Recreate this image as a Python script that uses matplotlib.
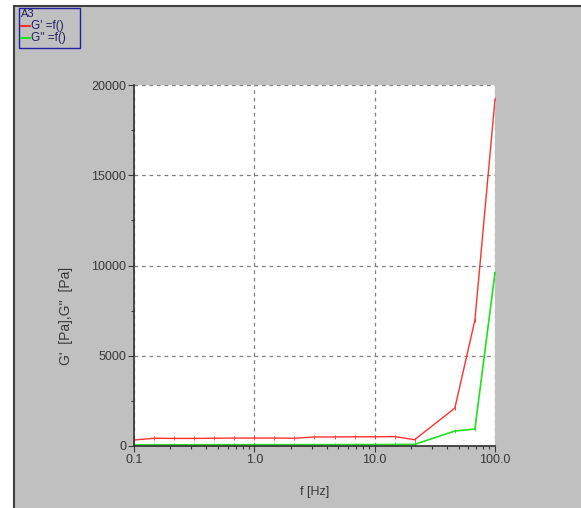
import matplotlib
matplotlib.use("Agg")
import matplotlib.pyplot as plt
from matplotlib.patches import Rectangle
from matplotlib.lines import Line2D
from matplotlib.ticker import FixedLocator, NullFormatter

plt.rcParams['font.family'] = ['Liberation Sans', 'DejaVu Sans']

freq = [0.1, 0.147, 0.215, 0.316, 0.464, 0.681, 1.0, 1.47, 2.15, 3.16,
        4.64, 6.81, 10.0, 14.7, 21.5, 46.4, 68.1, 100.0]
g_storage = [330, 430, 420, 420, 430, 440, 440, 440, 430, 500,
             500, 510, 510, 520, 350, 2100, 6980, 19200]
g_loss = [60, 60, 65, 65, 70, 70, 70, 70, 70, 75,
          75, 80, 80, 85, 90, 830, 940, 9600]
x_ticks = [0.1, 1.0, 10.0, 100.0]
x_tick_labels = ["0.1", "1.0", "10.0", "100.0"]
y_ticks = [0, 5000, 10000, 15000, 20000]

bg = "#c0c0c0"
txt = "#383838"
fig = plt.figure(figsize=(5.81, 5.08), dpi=100)
fig.patch.set_facecolor("white")

# gray panel with dark left/top border
fig.patches.append(Rectangle((14 / 581, 0), 1, 1 - 6 / 508, transform=fig.transFigure,
                             facecolor=bg, edgecolor="none", zorder=-10))
fig.lines.append(Line2D([14 / 581, 14 / 581], [0, 1 - 6 / 508], transform=fig.transFigure,
                        color="#404040", lw=1.5, zorder=-5))
fig.lines.append(Line2D([14 / 581, 1], [1 - 6 / 508, 1 - 6 / 508], transform=fig.transFigure,
                        color="#404040", lw=1.5, zorder=-5))

ax = fig.add_axes([134 / 581, 1 - 446 / 508, 361 / 581, 361 / 508])
ax.set_facecolor("white")
ax.plot(freq, g_storage, color="#ff3030", lw=1.0, marker="|", ms=3, mew=0.6)
ax.plot(freq, g_loss, color="#20e020", lw=1.2, marker="|", ms=3, mew=0.6)

ax.set_xscale("log")
ax.set_xlim(0.1, 100)
ax.set_ylim(0, 20000)
ax.xaxis.set_major_locator(FixedLocator(x_ticks))
ax.set_xticks(x_ticks)
ax.set_xticklabels(x_tick_labels)
ax.xaxis.set_minor_formatter(NullFormatter())
ax.set_yticks(y_ticks)
ax.yaxis.set_minor_locator(FixedLocator([2500, 7500, 12500, 17500]))

ax.grid(True, which="major", color="#808080", ls=(0, (3, 3)), lw=0.9)
for side in ["top", "right"]:
    ax.spines[side].set_visible(False)
for side in ["left", "bottom"]:
    ax.spines[side].set_color("#303030")
    ax.spines[side].set_linewidth(1.2)
ax.tick_params(which="major", length=4, width=0.8, labelsize=9, colors=txt, pad=1.5)
ax.tick_params(which="minor", length=2.5, width=0.8, colors=txt)

ax.set_xlabel("f [Hz]", fontsize=9, color=txt, labelpad=15)
ax.set_ylabel("G'  [Pa],G''  [Pa]", fontsize=10, color=txt)
ax.yaxis.set_label_coords(-0.17, 0.36)

# legend box in the corner
fig.patches.append(Rectangle((19 / 581, 1 - 48 / 508), 61 / 581, 40 / 508,
                             transform=fig.transFigure, facecolor="none",
                             edgecolor="#2020a0", lw=1.0))
fig.text(21 / 581, 1 - 14 / 508, "A3", fontsize=8, color="#202060", va="center")
fig.lines.append(Line2D([21 / 581, 30 / 581], [1 - 26 / 508] * 2, transform=fig.transFigure,
                        color="#ff3030", lw=1.5))
fig.text(31 / 581, 1 - 26 / 508, "G' =f()", fontsize=8.5, color="#202060", va="center")
fig.lines.append(Line2D([21 / 581, 30 / 581], [1 - 38 / 508] * 2, transform=fig.transFigure,
                        color="#20e020", lw=1.5))
fig.text(31 / 581, 1 - 38 / 508, "G'' =f()", fontsize=8.5, color="#202060", va="center")

fig.savefig("out.png", dpi=100, facecolor=fig.get_facecolor())
